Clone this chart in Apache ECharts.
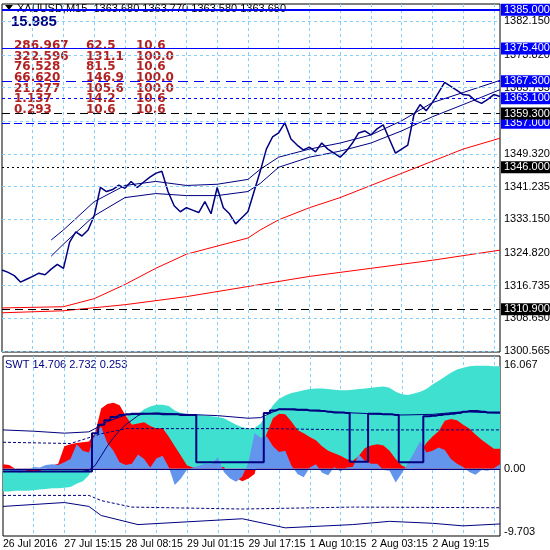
<!DOCTYPE html>
<html><head><meta charset="utf-8">
<script src="https://cdn.jsdelivr.net/npm/echarts@6/dist/echarts.min.js"></script>
<style>html,body{margin:0;padding:0;background:#fff}#c{width:550px;height:550px}</style>
</head><body><div id="c"></div>
<script>
const timeLabels = ['26 Jul 2016','27 Jul 15:15','28 Jul 08:15','29 Jul 01:15','29 Jul 17:15','1 Aug 10:15','2 Aug 03:15','2 Aug 19:15'];
const price = [1320.6,1320.0,1319.2,1317.6,1318.3,1319.0,1319.8,1319.4,1320.8,1322.0,1321.0,1327.5,1330.0,1329.0,1330.5,1334.0,1341.0,1340.0,1340.5,1341.6,1340.8,1342.5,1341.0,1342.3,1343.5,1344.5,1345.0,1340.0,1336.5,1335.0,1336.0,1335.4,1334.8,1337.5,1334.5,1341.0,1336.0,1334.5,1332.0,1333.5,1335.0,1340.0,1345.0,1350.5,1353.5,1354.5,1357.0,1353.0,1351.5,1350.3,1351.0,1349.8,1352.0,1350.5,1349.5,1348.5,1350.0,1352.0,1354.5,1355.0,1354.0,1355.5,1356.5,1353.0,1349.5,1350.5,1351.5,1359.0,1361.5,1360.0,1362.0,1364.5,1367.0,1366.0,1365.0,1364.0,1363.8,1362.5,1361.8,1362.8,1364.0,1363.5];
const maFast = [1311.2,null,null,null,null,null,null,null,null,null,1311.5,null,null,null,null,1313.5,null,null,null,null,1317.0,null,null,null,null,1321.0,null,null,null,null,1324.5,null,null,null,null,1326.5,null,null,null,null,1328.5,null,1330.5,null,null,1333.0,null,null,null,null,1336.0,null,null,null,null,1338.5,null,null,null,null,1341.5,null,null,null,null,1344.5,null,null,null,null,1347.5,null,null,null,null,1350.5,null,null,null,null,null,1353.2];
const maSlow = [1310.0,null,null,null,null,null,null,null,null,null,1310.5,null,null,null,null,null,null,null,null,null,1312.0,null,null,null,null,null,null,null,null,null,1314.0,null,null,null,null,null,null,null,null,null,1316.5,null,null,null,null,null,null,null,null,null,1319.0,null,null,null,null,null,null,null,null,null,1321.0,null,null,null,null,null,null,null,null,null,1323.0,null,null,null,null,null,null,null,null,null,null,1325.5];
const envUp = [null,null,null,null,null,null,null,null,1328.0,null,1330.5,null,null,null,null,1337.5,null,null,null,null,1341.5,null,null,null,null,1342.5,null,null,null,null,1341.5,null,null,null,null,1341.8,null,null,null,null,1343.0,null,1345.5,null,null,1348.5,null,null,null,null,1350.5,null,null,null,null,1352.0,null,null,null,null,1354.0,null,null,null,null,1357.5,null,null,null,null,1362.0,null,null,null,null,1364.5,null,null,null,null,null,1367.5];
const envDn = [null,null,null,null,null,null,null,null,1324.0,null,1327.0,null,null,null,null,1334.0,null,null,null,null,1338.5,null,null,null,null,1339.5,null,null,null,null,1339.0,null,null,null,null,1339.0,null,null,null,null,1340.0,null,1342.0,null,null,1346.0,null,null,null,null,1348.5,null,null,null,null,1350.0,null,null,null,null,1352.0,null,null,null,null,1355.0,null,null,null,null,1358.5,null,null,null,null,1361.5,null,null,null,null,null,1365.2];
const priceTicks = ['1382.150','1373.820','1365.735','1357.400','1349.320','1341.235','1333.150','1324.820','1316.735','1308.650','1300.565'];
const levelsBlue = [1385.0,1375.4,1367.3,1363.1,1357.0];
const levelsBlack = [1359.3,1346.0,1310.9];
const headerText = 'XAUUSD,M15  1363.680 1363.770 1363.580 1363.680';
const headerValue = '15.985';
const tableRows = [['286.967','62.5','10.6'],['322.596','131.1','100.0'],['76.528','81.5','10.6'],['66.620','146.9','100.0'],['21.277','105.6','100.0'],['1.137','14.2','10.6'],['0.293','10.6','10.6']];

const swtTurq = [-3.5,-3.5,-3.4,-3.4,-3.4,-3.3,-3.2,-3.1,-3.0,-3.0,-2.9,-2.8,-2.3,-1.9,-1.0,1.0,3.5,5.0,6.5,7.5,8.0,8.5,8.4,9.2,9.6,9.9,9.9,9.7,9.0,8.6,8.4,8.4,8.3,8.2,8.1,8.0,7.8,7.3,6.8,6.4,6.2,6.3,7.0,8.3,9.8,10.8,11.3,11.7,11.9,12.1,12.3,12.4,12.4,12.3,12.2,12.1,12.1,12.2,12.3,12.4,12.5,12.6,12.7,12.5,11.9,11.5,11.4,11.6,11.9,12.3,13.0,13.6,14.2,14.8,15.3,15.6,15.8,15.9,15.9,15.9,15.8,15.8];
const swtRed = [0.7,0.6,0,-0.2,-0.4,-0.5,-0.3,0,0.5,0.8,3.5,3.8,4.0,4.1,4.2,5.5,9.3,10.0,10.2,9.8,8.2,6.8,7.0,7.2,6.6,6.2,6.3,5.0,3.5,2.0,0.5,0.2,0.3,0.3,0.3,0.3,0.3,-0.8,-1.4,-1.9,-1.5,-0.8,3.0,5.5,7.8,8.5,8.4,7.3,6.0,5.5,4.9,4.4,3.5,2.8,2.4,2.0,1.5,1.2,2.0,3.2,3.6,3.8,3.6,2.8,1.5,0.5,0.1,0.1,2.5,4.0,5.0,5.8,7.4,7.7,7.5,6.8,6.2,5.3,4.5,3.8,3.1,3.1];
const swtBlue = [0.1,-0.2,-0.5,-0.6,-0.2,0.3,0.2,0.6,0.7,0.6,1.0,1.5,3.8,2.8,2.5,5.5,6.5,4.0,2.8,1.0,0.6,0.8,2.2,1.5,0.2,1.6,2.0,0.3,-2.5,-1.5,-0.1,0.2,0.5,0.8,0.7,1.8,-0.5,-1.5,-2.0,-1.2,1.0,5.5,4.8,5.0,3.5,2.6,2.8,0.5,-0.8,-1.3,0.2,0.7,-0.6,-1.0,0.3,-0.4,0.2,0.3,2.2,1.2,0.8,0.8,-0.2,-0.3,-2.1,-0.7,0.9,2.5,4.3,2.5,2.8,3.3,2.9,1.5,0.8,0.3,-0.5,-0.9,-0.2,-0.3,0.1,0.7];
const swtStep = [-0.4,-0.4,-0.4,-0.4,-0.4,-0.4,-0.4,-0.4,-0.4,-0.4,-0.4,-0.4,-0.4,-0.4,-0.4,5.5,6.8,7.5,8.0,8.3,8.4,8.5,8.5,8.5,8.5,8.5,8.4,8.4,8.4,8.3,8.3,8.3,1.0,1.0,1.0,1.0,1.0,1.0,1.0,1.0,1.0,1.0,1.0,8.6,9.0,9.2,9.2,9.2,9.1,9.1,9.0,9.0,8.9,8.8,8.7,8.7,8.6,1.1,1.1,1.1,8.5,8.5,8.4,8.4,8.3,1.0,1.0,1.0,1.0,8.1,8.2,8.3,8.4,8.5,8.6,8.8,8.9,8.9,8.8,8.7,8.7,8.7];
const swtThin = [null,null,null,null,null,null,null,null,null,null,null,null,null,-0.4,-0.2,0.5,2.0,3.5,4.8,5.9,6.8,7.5,8.2,8.6,null,null,null,null,null,null,null,null,null,null,null,null,null,null,null,null,null,null,null,null,null,null,null,null,null,null,null,null,null,null,null,null,null,null,null,null,null,null,null,null,null,null,null,null,null,null,null,null,null,null,null,null,null,null,null,null,null,null];
const swtUpSolid = [6.0,null,null,null,null,5.8,null,null,null,null,5.5,null,null,null,5.7,6.2,null,7.3,null,null,8.3,null,null,null,null,8.6,null,null,null,null,8.4,null,null,null,null,8.2,null,null,null,null,7.8,null,7.9,null,null,9.2,null,null,null,null,9.0,null,null,null,null,8.7,null,null,null,null,8.5,null,null,null,null,8.3,null,null,null,null,8.4,null,null,null,null,8.8,null,null,null,null,null,8.6];
const swtUpDash = [4.1,null,null,null,null,null,null,null,null,null,null,3.9,null,null,null,null,5.4,null,null,null,6.2,null,null,null,null,null,null,null,null,null,null,null,6.2,null,null,null,null,null,null,null,null,null,null,6.2,null,null,null,null,null,null,null,null,null,null,null,null,null,6.0,null,null,null,null,null,null,null,null,null,null,null,null,null,null,null,null,null,null,null,null,null,null,null,6.0];
const swtDnDash = [-4.1,null,null,null,null,null,null,null,null,null,null,null,null,null,-4.1,null,-4.9,null,null,null,null,-5.9,null,null,null,null,null,null,null,null,null,null,null,null,null,null,null,null,null,-6.2,null,null,null,null,null,null,null,null,null,null,null,null,null,null,null,null,null,-5.9,null,null,null,null,null,null,null,null,null,null,null,null,null,null,null,null,null,null,null,null,null,null,null,-6.0];
const swtDnSolid = [-5.8,null,null,null,null,null,null,null,null,null,-5.2,null,null,null,-5.8,null,-7.2,null,null,null,null,null,-8.6,null,null,null,null,null,null,null,null,null,null,null,null,null,null,null,null,-7.7,null,null,null,null,null,null,-9.1,null,null,null,null,null,null,null,null,null,null,-8.6,null,null,null,null,null,-8.1,null,null,null,null,null,null,-8.4,null,null,null,null,-8.8,null,null,null,null,null,-8.5];
const swtTicks = ['16.067','0.00','-9.703'];
const swtHeader = 'SWT 14.706 2.732 0.253';

const cats = price.map((_, i) => i);
const navy = '#000080', grid = '#87CEFA';
const FONT = 'Liberation Sans';
function gl(v, txt, style) {
  return {yAxis: v, lineStyle: style, label: {show: true, position: 'end', formatter: txt, color: '#000', fontSize: 11, fontFamily: FONT, distance: 4}};
}
const gridLines = priceTicks.map(t => gl(+t, t, {color: grid, type: [3,3], width: 1}));
const lvlStyle = [
  {color:'#0000ff',width:2,type:'solid'},{color:'#0000ff',width:1,type:'solid'},{color:'#0000ff',width:1,type:[10,6]},{color:'#0000ff',width:1,type:[3,3]},{color:'#0000ff',width:1,type:[8,4]}];
const boxLabel = (v, bg) => ({show: true, position: 'end', formatter: v.toFixed(3), color: '#fff', backgroundColor: bg, fontSize: 11, fontFamily: FONT, padding: [1,2,0,3], distance: 1});
const blueLv = levelsBlue.map((v, k) => ({yAxis: v, lineStyle: lvlStyle[k], label: boxLabel(v, '#0000ff')}));
const blackLv = levelsBlack.map((v, k) => ({yAxis: v, lineStyle: {color: '#000', width: 1, type: k === 1 ? [2,3] : [8,5]}, label: boxLabel(v, '#000')}));
const swtLabel = (t) => ({show: true, position: 'end', formatter: t, color: '#000', fontSize: 11, fontFamily: FONT, distance: 4});
const swtLines = [
  {yAxis: 16.067, lineStyle: {color: 'rgba(0,0,0,0)', width: 0}, label: swtLabel(swtTicks[0])},
  {yAxis: 0, lineStyle: {color: navy, width: 1, type: 'solid'}, label: swtLabel(swtTicks[1])},
  {yAxis: -9.703, lineStyle: {color: 'rgba(0,0,0,0)', width: 0}, label: swtLabel(swtTicks[2])}];

const chart = echarts.init(document.getElementById('c'));
const lineS = (name, data, x, color, width, type, extra) => Object.assign({name, type: 'line', xAxisIndex: x, yAxisIndex: x, data, symbol: 'none', connectNulls: true, lineStyle: {color, width, type}, silent: true, animation: false}, extra || {});
const areaS = (data, color) => ({type: 'line', xAxisIndex: 1, yAxisIndex: 1, data, symbol: 'none', lineStyle: {width: 0}, areaStyle: {color, opacity: 1, origin: 0}, silent: true, animation: false});

const texts = [
  {type: 'polygon', shape: {points: [[5,5],[13,5],[9,10]]}, style: {fill: '#000'}},
  {type: 'text', left: 17, top: 3, style: {text: headerText, font: '11px "Liberation Sans"', fill: '#000'}},
  {type: 'text', left: 11, top: 14, style: {text: headerValue, font: 'bold 15px "Liberation Sans"', fill: navy}},
  {type: 'text', left: 5, top: 359, style: {text: swtHeader, font: '11px "Liberation Sans"', fill: navy}}];
tableRows.forEach((r, k) => {
  [14, 86, 136].forEach((x, j) => texts.push({type: 'text', left: x, top: 40 + k * 10.6, style: {text: r[j], font: 'bold 12px "DejaVu Sans"', fill: '#B22222'}}));
});

chart.setOption({
  backgroundColor: '#fff',
  animation: false,
  grid: [
    {left: 2, right: 50, top: 4, height: 348, show: true, borderColor: '#000', borderWidth: 1},
    {left: 2, right: 50, top: 356, height: 184, show: true, borderColor: '#000', borderWidth: 1}],
  xAxis: [0, 1].map(g => ({
    type: 'category', gridIndex: g, data: cats, boundaryGap: false,
    axisLine: {show: false}, axisTick: {show: false},
    splitLine: {show: true, interval: (i) => i % 5 === 0 && i > 0, lineStyle: {color: grid, type: [3,3]}},
    axisLabel: g === 1 ? {show: true, interval: (i) => i % 10 === 0, formatter: (v) => timeLabels[v / 10] || '', align: 'left', color: '#000', fontSize: 10.5, fontFamily: FONT, margin: 3} : {show: false}
  })),
  yAxis: [
    {type: 'value', gridIndex: 0, position: 'right', min: 1300.3, max: 1386.4, axisLabel: {show: false}, splitLine: {show: false}, axisLine: {show: false}, axisTick: {show: false}},
    {type: 'value', gridIndex: 1, position: 'right', min: -10.36, max: 17.4, axisLabel: {show: false}, splitLine: {show: false}, axisLine: {show: false}, axisTick: {show: false}}],
  graphic: texts,
  series: [
    lineS('grid', price.map(() => null), 0, grid, 1, 'solid', {markLine: {silent: true, symbol: 'none', animation: false, data: gridLines}}),
    lineS('maSlow', maSlow, 0, '#ff0000', 1, 'solid'),
    lineS('maFast', maFast, 0, '#ff0000', 1, 'solid'),
    lineS('envUp', envUp, 0, navy, 1, 'solid'),
    lineS('envDn', envDn, 0, navy, 1, 'solid'),
    lineS('price', price, 0, navy, 1.5, 'solid', {markLine: {silent: true, symbol: 'none', animation: false, data: blueLv.concat(blackLv)}}),
    areaS(swtTurq, '#40E0D0'),
    areaS(swtRed, '#ff0000'),
    areaS(swtBlue, '#6495ED'),
    lineS('upSolid', swtUpSolid, 1, navy, 1, 'solid'),
    lineS('upDash', swtUpDash, 1, navy, 1, [3,2]),
    lineS('dnDash', swtDnDash, 1, navy, 1, [3,2]),
    lineS('dnSolid', swtDnSolid, 1, navy, 1, 'solid'),
    lineS('thin', swtThin, 1, navy, 1, 'solid'),
    lineS('step', swtStep, 1, navy, 2, 'solid', {step: 'middle', markLine: {silent: true, symbol: 'none', animation: false, data: swtLines}})
  ]
});
</script></body></html>
